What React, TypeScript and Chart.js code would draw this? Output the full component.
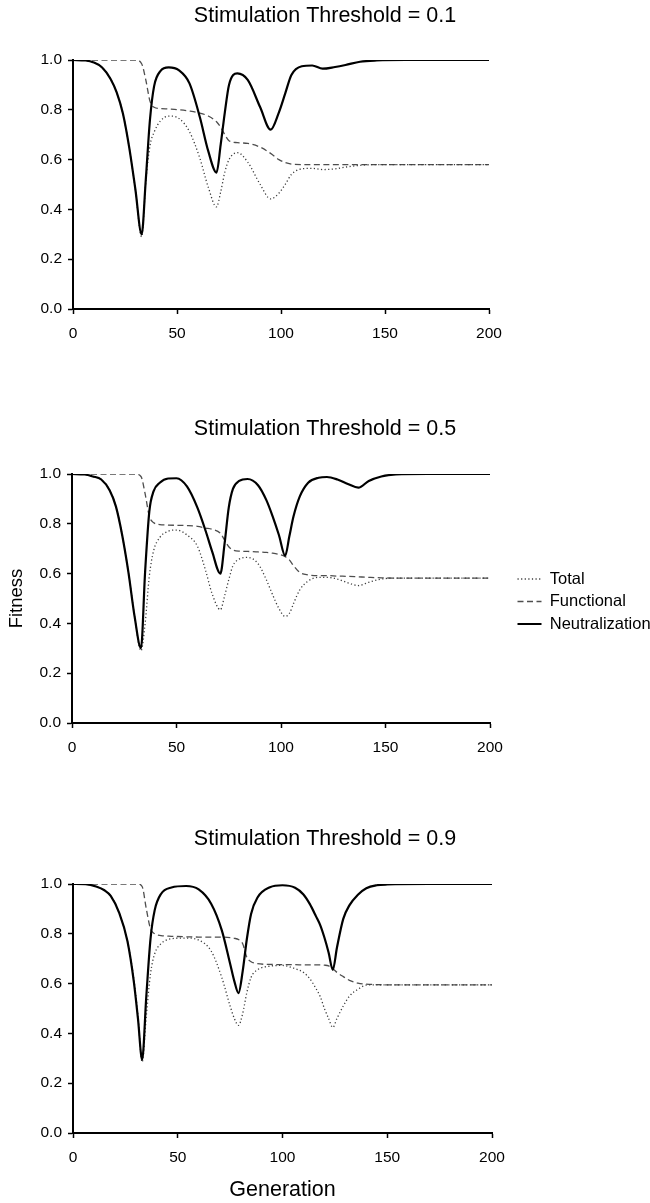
import React, { useEffect, useRef } from 'react';
import { Chart, registerables } from 'chart.js';

Chart.register(...registerables);

const FONT = "'Liberation Sans', Arial, Helvetica, sans-serif";

// Axis ticks shared by all three panels
const generationTicks = [0, 50, 100, 150, 200];
const fitnessTicks = [0, 0.2, 0.4, 0.6, 0.8, 1.0];
const seriesNames = ['Total', 'Functional', 'Neutralization'];

// Stimulation threshold = 0.1
const gen01 = [0, 6, 10, 14, 18, 21, 24, 27, 30, 33, 35, 37, 39, 42, 46, 51, 56, 61, 65, 69, 71, 73, 75, 79, 84, 90, 95, 99, 102, 105, 110, 115, 120, 126, 131, 138, 146, 160, 180, 200];
const total01 = [1.0, 0.998, 0.99, 0.97, 0.925, 0.87, 0.785, 0.65, 0.48, 0.29, 0.51, 0.655, 0.71, 0.755, 0.775, 0.765, 0.712, 0.605, 0.49, 0.41, 0.47, 0.55, 0.6, 0.628, 0.59, 0.5, 0.442, 0.465, 0.5, 0.54, 0.563, 0.565, 0.56, 0.563, 0.57, 0.577, 0.58, 0.58, 0.58, 0.58];
const functional01 = [1, 1, 1, 1, 1, 1, 1, 1, 1, 0.985, 0.92, 0.835, 0.81, 0.805, 0.803, 0.8, 0.795, 0.787, 0.775, 0.752, 0.73, 0.7, 0.676, 0.668, 0.665, 0.65, 0.625, 0.6, 0.588, 0.582, 0.58, 0.58, 0.58, 0.58, 0.58, 0.58, 0.58, 0.58, 0.58, 0.58];
const neutral01 = [1.0, 0.998, 0.99, 0.97, 0.925, 0.87, 0.785, 0.65, 0.48, 0.3, 0.52, 0.76, 0.895, 0.955, 0.97, 0.958, 0.906, 0.77, 0.635, 0.548, 0.66, 0.79, 0.9, 0.946, 0.92, 0.81, 0.72, 0.79, 0.865, 0.94, 0.975, 0.978, 0.965, 0.972, 0.98, 0.993, 0.998, 1.0, 1.0, 1.0];

// Stimulation threshold = 0.5
const gen05 = [0, 6, 10, 14, 18, 21, 24, 27, 30, 33, 35, 37, 39, 42, 46, 50, 55, 60, 64, 67, 71, 73, 75, 77, 80, 84, 89, 93, 96, 99, 102, 104, 106, 109, 113, 118, 122, 127, 132, 137, 142, 148, 155, 170, 200];
const total05 = [1.0, 0.998, 0.99, 0.978, 0.935, 0.87, 0.755, 0.605, 0.425, 0.29, 0.4, 0.59, 0.69, 0.745, 0.77, 0.775, 0.755, 0.71, 0.61, 0.52, 0.455, 0.51, 0.575, 0.632, 0.658, 0.665, 0.64, 0.575, 0.515, 0.46, 0.428, 0.44, 0.48, 0.535, 0.57, 0.585, 0.585, 0.578, 0.563, 0.552, 0.565, 0.578, 0.582, 0.582, 0.582];
const functional05 = [1, 1, 1, 1, 1, 1, 1, 1, 1, 0.99, 0.92, 0.83, 0.805, 0.797, 0.795, 0.794, 0.793, 0.79, 0.783, 0.778, 0.762, 0.735, 0.708, 0.695, 0.69, 0.689, 0.687, 0.685, 0.682, 0.677, 0.668, 0.655, 0.632, 0.605, 0.595, 0.592, 0.592, 0.59, 0.589, 0.587, 0.585, 0.583, 0.582, 0.582, 0.582];
const neutral05 = [1.0, 0.998, 0.99, 0.978, 0.935, 0.87, 0.755, 0.605, 0.425, 0.3, 0.61, 0.85, 0.93, 0.965, 0.982, 0.983, 0.95, 0.865, 0.77, 0.69, 0.6, 0.72, 0.865, 0.94, 0.972, 0.98, 0.955, 0.895, 0.83, 0.755, 0.672, 0.75, 0.83, 0.91, 0.965, 0.985, 0.988, 0.978, 0.96, 0.945, 0.972, 0.99, 0.998, 1.0, 1.0];

// Stimulation threshold = 0.9
const gen09 = [0, 6, 11, 15, 18, 22, 26, 29, 31, 33, 35, 37, 39, 42, 47, 54, 60, 66, 71, 75, 77, 79, 81, 83, 85, 88, 94, 100, 106, 110, 113, 116, 118, 120, 122, 124, 126, 129, 132, 136, 140, 145, 150, 170, 200];
const total09 = [1.0, 0.999, 0.99, 0.975, 0.952, 0.885, 0.77, 0.62, 0.47, 0.285, 0.47, 0.64, 0.72, 0.76, 0.78, 0.783, 0.775, 0.73, 0.625, 0.51, 0.46, 0.432, 0.48, 0.565, 0.625, 0.655, 0.67, 0.673, 0.66, 0.645, 0.62, 0.58, 0.548, 0.5, 0.46, 0.424, 0.46, 0.51, 0.55, 0.577, 0.594, 0.595, 0.595, 0.595, 0.595];
const functional09 = [1, 1, 1, 1, 1, 1, 1, 1, 1, 0.99, 0.9, 0.82, 0.8, 0.793, 0.79, 0.788, 0.787, 0.787, 0.787, 0.785, 0.782, 0.777, 0.76, 0.705, 0.688, 0.68, 0.677, 0.676, 0.676, 0.675, 0.675, 0.675, 0.675, 0.674, 0.671, 0.66, 0.645, 0.628, 0.613, 0.602, 0.598, 0.596, 0.595, 0.595, 0.595];
const neutral09 = [1.0, 0.999, 0.99, 0.975, 0.952, 0.885, 0.77, 0.61, 0.46, 0.295, 0.55, 0.78, 0.895, 0.96, 0.986, 0.992, 0.978, 0.92, 0.815, 0.68, 0.61, 0.562, 0.65, 0.78, 0.88, 0.945, 0.987, 0.995, 0.985, 0.958, 0.92, 0.87, 0.835, 0.785, 0.725, 0.655, 0.745, 0.86, 0.915, 0.957, 0.983, 0.995, 0.998, 1.0, 1.0];

type PanelSpec = {
  title: string;
  gen: number[];
  total: number[];
  functional: number[];
  neutral: number[];
  top: number;
  height: number;
  plotLeft: number;
  plotRight: number;
  xAxisHeight: number;
  titlePad: { top: number; bottom: number };
  showLegend?: boolean;
  yTitle?: string;
  xTitle?: string;
};

const panels: PanelSpec[] = [
  {
    title: 'Stimulation Threshold = 0.1',
    gen: gen01, total: total01, functional: functional01, neutral: neutral01,
    top: 0, height: 360, plotLeft: 73, plotRight: 489, xAxisHeight: 51,
    titlePad: { top: 3.6, bottom: 30.6 },
  },
  {
    title: 'Stimulation Threshold = 0.5',
    gen: gen05, total: total05, functional: functional05, neutral: neutral05,
    top: 380, height: 393, plotLeft: 72, plotRight: 490, xAxisHeight: 50,
    titlePad: { top: 36.6, bottom: 31.6 },
    showLegend: true, yTitle: 'Fitness',
  },
  {
    title: 'Stimulation Threshold = 0.9',
    gen: gen09, total: total09, functional: functional09, neutral: neutral09,
    top: 780, height: 423, plotLeft: 73, plotRight: 492, xAxisHeight: 70,
    titlePad: { top: 46.6, bottom: 31.6 },
    xTitle: 'Generation',
  },
];

// Moves the legend block away from the plot edge after layout
const legendShift = {
  id: 'legendShift',
  afterLayout(chart: any, _args: any, opts: any) {
    const lg = chart.legend;
    if (!lg || !opts) return;
    const dx = opts.dx || 0;
    const dy = opts.dy || 0;
    lg.left += dx; lg.right += dx; lg.top += dy; lg.bottom += dy;
  },
};

const lineStyles = [
  { borderColor: '#3c3c3c', borderWidth: 1.3, borderDash: [1.2, 2.4] },
  { borderColor: '#4e4e4e', borderWidth: 1.3, borderDash: [6, 3.5] },
  { borderColor: '#000000', borderWidth: 2.2, borderDash: [] as number[] },
];

function buildChart(canvas: HTMLCanvasElement, p: PanelSpec) {
  const pts = (ys: number[]) => p.gen.map((g, i) => ({ x: g, y: ys[i] }));
  const series = [p.total, p.functional, p.neutral];
  const datasets = series.map((ys, i) => ({
    label: seriesNames[i],
    data: pts(ys),
    ...lineStyles[i],
    fill: false,
    pointRadius: 0,
    cubicInterpolationMode: 'monotone' as const,
    order: i === 2 ? -1 : i,
  }));

  const axisGrid = {
    display: true,
    drawOnChartArea: false,
    drawTicks: true,
    tickLength: 5,
    tickColor: '#000',
    tickWidth: 1.5,
  };

  return new Chart(canvas, {
    type: 'line',
    data: { datasets },
    plugins: p.showLegend ? [legendShift] : [],
    options: {
      responsive: false,
      animation: false,
      devicePixelRatio: 1,
      events: [],
      layout: { padding: 0 },
      plugins: {
        title: {
          display: true,
          text: p.title,
          color: '#000',
          font: { family: FONT, size: 21.5, weight: 'normal' },
          padding: p.titlePad,
        },
        legend: p.showLegend
          ? {
              display: true,
              position: 'right',
              align: 'center',
              labels: {
                usePointStyle: true,
                pointStyleWidth: 24,
                padding: 6,
                color: '#000',
                font: { family: FONT, size: 16.5 },
                generateLabels: (chart: any) =>
                  chart.data.datasets.map((ds: any, i: number) => ({
                    text: ds.label,
                    fillStyle: 'rgba(0,0,0,0)',
                    strokeStyle: ds.borderColor,
                    lineWidth: ds.borderWidth,
                    lineDash: ds.borderDash || [],
                    lineCap: 'butt',
                    pointStyle: 'line',
                    hidden: false,
                    datasetIndex: i,
                    fontColor: '#000',
                  })),
              },
            }
          : { display: false },
        tooltip: { enabled: false },
        legendShift: { dx: 21.5, dy: 25 },
      } as any,
      scales: {
        x: {
          type: 'linear',
          min: 0,
          max: 200,
          afterBuildTicks: (s: any) => {
            s.ticks = generationTicks.map((v) => ({ value: v }));
          },
          afterFit: (s: any) => {
            s.height = p.xAxisHeight;
            s.paddingRight = 650 - p.plotRight;
          },
          grid: axisGrid,
          border: { display: true, color: '#000', width: 2 },
          ticks: {
            color: '#000',
            padding: 10.5,
            maxRotation: 0,
            autoSkip: false,
            font: { family: FONT, size: 15.5 },
          },
          title: p.xTitle
            ? {
                display: true,
                text: p.xTitle,
                color: '#000',
                font: { family: FONT, size: 21.5 },
                padding: { top: 0, bottom: 0.1 },
              }
            : { display: false },
        },
        y: {
          type: 'linear',
          min: 0,
          max: 1,
          afterBuildTicks: (s: any) => {
            s.ticks = fitnessTicks.map((v) => ({ value: v }));
          },
          afterFit: (s: any) => {
            s.width = p.plotLeft;
          },
          grid: axisGrid,
          border: { display: true, color: '#000', width: 2 },
          ticks: {
            color: '#000',
            padding: 6,
            autoSkip: false,
            font: { family: FONT, size: 15.5 },
            callback: (v: any) => Number(v).toFixed(1),
          },
          title: p.yTitle
            ? {
                display: true,
                text: p.yTitle,
                color: '#000',
                font: { family: FONT, size: 18.5 },
                padding: { top: 5.9, bottom: 0 },
              }
            : { display: false },
        },
      },
    } as any,
  });
}

function Panel({ p }: { p: PanelSpec }) {
  const ref = useRef<HTMLCanvasElement>(null);
  useEffect(() => {
    if (!ref.current) return;
    const chart = buildChart(ref.current, p);
    return () => chart.destroy();
  }, [p]);
  return (
    <canvas
      ref={ref}
      width={650}
      height={p.height}
      style={{ position: 'absolute', left: 0, top: p.top, display: 'block' }}
    />
  );
}

export default function App() {
  return (
    <div
      style={{
        position: 'absolute',
        left: 0,
        top: 0,
        width: 650,
        height: 1203,
        background: '#ffffff',
        overflow: 'hidden',
      }}
    >
      {panels.map((p) => (
        <Panel key={p.title} p={p} />
      ))}
    </div>
  );
}
